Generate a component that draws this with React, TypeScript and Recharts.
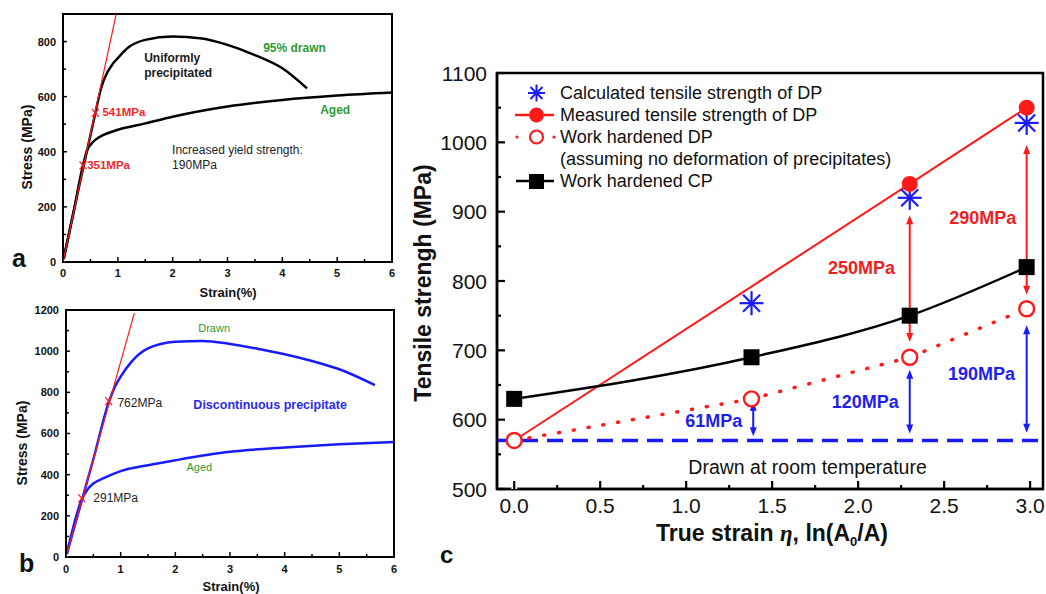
import React from "react";
import {
  ComposedChart,
  Line,
  Scatter,
  XAxis,
  YAxis,
  ReferenceLine,
  ReferenceArea,
  Legend,
} from "recharts";

// ---------- panel a (stress-strain, black) ----------
const strainDrawnA = [0, 0.3, 0.59, 0.7, 0.8, 0.9, 1.0, 1.2, 1.5, 2.0, 2.5, 3.0, 3.5, 4.0, 4.45];
const stressDrawnA = [0, 280, 541, 635, 685, 717, 740, 780, 806, 818, 812, 788, 751, 703, 630];
const strainAgedA = [0, 0.2, 0.365, 0.45, 0.5, 0.6, 0.75, 1.0, 1.5, 2.0, 3.0, 4.0, 5.0, 6.0];
const stressAgedA = [0, 190, 351, 410, 425, 445, 462, 480, 503, 527, 564, 588, 604, 615];
const elasticStrainA = [0, 0.97];
const elasticStressA = [0, 900];
const yieldStrainA = [0.365, 0.59];
const yieldStressA = [351, 541];

// ---------- panel b (stress-strain, blue) ----------
const strainDrawnB = [0, 0.3, 0.5, 0.78, 0.9, 1.0, 1.2, 1.5, 2.0, 2.5, 3.0, 3.5, 4.0, 4.5, 5.0, 5.65];
const stressDrawnB = [0, 285, 475, 750, 830, 876, 949, 1013, 1046, 1050, 1035, 1012, 985, 952, 912, 835];
const strainAgedB = [0, 0.29, 0.4, 0.5, 0.7, 1.0, 1.5, 2.0, 3.0, 4.0, 5.0, 6.0];
const stressAgedB = [0, 280, 330, 357, 384, 417, 446, 470, 511, 532, 548, 559];
const elasticStrainB = [0, 1.25];
const elasticStressB = [0, 1185];
const yieldStrainB = [0.29, 0.78];
const yieldStressB = [285, 757];

// ---------- panel c (tensile strength vs true strain) ----------
const trueStrain = [0, 1.38, 2.3, 2.98];
const calculatedDP = [null, 768, 920, 1028];
const measuredDP = [570, null, 940, 1050];
const hardenedDP = [570, 630, 690, 760];
const hardenedCP = [630, 690, 750, 820];
const drawnRT = 570;

const redArrowX = [2.3, 2.98];
const redArrowFrom = [712, 780];
const redArrowTo = [895, 996];
const blueArrowX = [1.39, 2.3, 2.98];
const blueArrowFrom = [576, 580, 581];
const blueArrowTo = [626, 672, 736];

const legendC = [
  "Calculated tensile strength of DP",
  "Measured tensile strength of DP",
  "Work hardened DP",
  "(assuming no deformation of precipitates)",
  "Work hardened CP",
];

// annotations (x, y in data units)
const notesBoldA = [
  { x: 1.48, y: 727, text: "Uniformly" },
  { x: 1.48, y: 672, text: "precipitated" },
];
const notesGreenA = [
  { x: 3.65, y: 763, text: "95% drawn" },
  { x: 4.69, y: 537, text: "Aged" },
];
const notesRedA = [
  { x: 0.72, y: 529, text: "541MPa" },
  { x: 0.44, y: 337, text: "351MPa" },
];
const notesPlainA = [
  { x: 1.99, y: 391, text: "Increased yield strength:" },
  { x: 1.99, y: 337, text: "190MPa" },
];
const notesGreenB = [
  { x: 2.71, y: 1094, text: "Drawn" },
  { x: 2.44, y: 417, text: "Aged" },
];
const notesPlainB = [
  { x: 0.94, y: 730, text: "762MPa" },
  { x: 0.5, y: 266, text: "291MPa" },
];
const notesBlueB = [{ x: 2.33, y: 718, text: "Discontinuous precipitate" }];
const notesRedC = [
  { x: 2.02, y: 820, text: "250MPa" },
  { x: 2.725, y: 892, text: "290MPa" },
];
const notesBlueC = [
  { x: 2.717, y: 667, text: "190MPa" },
  { x: 2.042, y: 626, text: "120MPa" },
  { x: 1.161, y: 599, text: "61MPa" },
];
const notesBlackC = [{ x: 1.706, y: 532, text: "Drawn at room temperature" }];

// ticks
const ticksX6 = [0, 0.5, 1, 1.5, 2, 2.5, 3, 3.5, 4, 4.5, 5, 5.5, 6];
const majorX6 = [0, 1, 2, 3, 4, 5, 6];
const ticksYA = [0, 100, 200, 300, 400, 500, 600, 700, 800];
const majorYA = [0, 200, 400, 600, 800];
const ticksYB = [0, 100, 200, 300, 400, 500, 600, 700, 800, 900, 1000, 1100, 1200];
const majorYB = [0, 200, 400, 600, 800, 1000, 1200];
const ticksXC = [0, 0.25, 0.5, 0.75, 1, 1.25, 1.5, 1.75, 2, 2.25, 2.5, 2.75, 3];
const majorXC = [0, 0.5, 1, 1.5, 2, 2.5, 3];
const ticksYC = [500, 550, 600, 650, 700, 750, 800, 850, 900, 950, 1000, 1050, 1100];
const majorYC = [500, 600, 700, 800, 900, 1000, 1100];

const FONT = '"Liberation Sans", Arial, Helvetica, sans-serif';
const RED = "#ff1a1a";
const BLUE = "#1a1aff";
const GREEN = "#2e9a36";
const INK = "#111";

const pts = (xs: number[], ys: (number | null)[]) =>
  xs.map((x, i) => ({ x, y: ys[i] })).filter((p) => p.y !== null);

type TickOpts = {
  side: "bottom" | "left" | "top" | "right";
  major: number[];
  len: number;
  minorLen: number;
  label?: boolean;
  fmt?: (v: number) => string;
  gap?: number;
  fontSize?: number;
  fontWeight?: string | number;
  strokeWidth?: number;
};

// draws inward tick lines, labels outside
function axisTick(o: TickOpts) {
  return (props: any) => {
    const { x, y, payload } = props;
    const v = payload.value;
    const isMajor = o.major.some((m) => Math.abs(m - v) < 1e-6);
    const L = isMajor ? o.len : o.minorLen;
    const sw = o.strokeWidth ?? 1.5;
    const show = o.label && isMajor;
    const txt = o.fmt ? o.fmt(v) : String(v);
    const gap = o.gap ?? 8;
    const txtStyle = {
      fontFamily: FONT,
      fontSize: o.fontSize ?? 12,
      fontWeight: o.fontWeight ?? "normal",
      fill: INK,
    };
    if (o.side === "bottom")
      return (
        <g>
          <line x1={x} y1={y} x2={x} y2={y - L} stroke="#000" strokeWidth={sw} />
          {show && (
            <text x={x} y={y + gap} textAnchor="middle" {...txtStyle}>
              {txt}
            </text>
          )}
        </g>
      );
    if (o.side === "top")
      return <line x1={x} y1={y} x2={x} y2={y + L} stroke="#000" strokeWidth={sw} />;
    if (o.side === "right")
      return <line x1={x} y1={y} x2={x - L} y2={y} stroke="#000" strokeWidth={sw} />;
    return (
      <g>
        <line x1={x} y1={y} x2={x + L} y2={y} stroke="#000" strokeWidth={sw} />
        {show && (
          <text x={x - gap} y={y} dy="0.36em" textAnchor="end" {...txtStyle}>
            {txt}
          </text>
        )}
      </g>
    );
  };
}

const textShape =
  (style: any) =>
  (props: any) =>
    (
      <text x={props.cx} y={props.cy} {...style}>
        {props.payload.text}
      </text>
    );

const xMark = (color: string) => (props: any) =>
  (
    <g stroke={color} strokeWidth={1.2}>
      <line x1={props.cx - 3.5} y1={props.cy - 4} x2={props.cx + 3.5} y2={props.cy + 4} />
      <line x1={props.cx - 3.5} y1={props.cy + 4} x2={props.cx + 3.5} y2={props.cy - 4} />
    </g>
  );

function Asterisk({ cx, cy, r, color, sw }: any) {
  const d = r * 0.7071;
  return (
    <g stroke={color} strokeWidth={sw}>
      <line x1={cx} y1={cy - r} x2={cx} y2={cy + r} />
      <line x1={cx - r} y1={cy} x2={cx + r} y2={cy} />
      <line x1={cx - d} y1={cy - d} x2={cx + d} y2={cy + d} />
      <line x1={cx - d} y1={cy + d} x2={cx + d} y2={cy - d} />
    </g>
  );
}

const arrowShape = (color: string) => (props: any) => {
  const { x1, y1, x2, y2 } = props;
  const top = Math.min(y1, y2);
  const bot = Math.max(y1, y2);
  const x = x1;
  return (
    <g>
      <line x1={x} y1={top + 6} x2={x} y2={bot - 6} stroke={color} strokeWidth={2} />
      <polygon points={`${x},${top} ${x - 3.5},${top + 9} ${x + 3.5},${top + 9}`} fill={color} />
      <polygon points={`${x},${bot} ${x - 3.5},${bot - 9} ${x + 3.5},${bot - 9}`} fill={color} />
    </g>
  );
};

// invisible series that keeps the top / right frame axes alive
const frameSeries = (xMin: number, yMin: number) => (
  <Line
    xAxisId="top"
    yAxisId="right"
    data={[{ x: xMin, y: yMin }]}
    dataKey="y"
    stroke="none"
    dot={false}
    legendType="none"
    isAnimationActive={false}
  />
);

function SmallPanel(props: {
  top: number;
  height: number;
  marginTop: number;
  marginRight: number;
  yWidth: number;
  xHeight: number;
  yMax: number;
  yTicks: number[];
  yMajor: number[];
  letter: string;
  letterPos: [number, number];
  yTitlePos: [number, number];
  xTitlePos: [number, number];
  tickGapX: number;
  children: React.ReactNode;
}) {
  const p = props;
  const tickFont = { fontSize: 11, fontWeight: "bold" as const };
  return (
    <div style={{ position: "absolute", left: 0, top: p.top }}>
      <ComposedChart
        width={400}
        height={p.height}
        margin={{ top: p.marginTop, right: p.marginRight, bottom: 0, left: 0 }}
      >
        <XAxis
          type="number"
          dataKey="x"
          domain={[0, 6]}
          ticks={ticksX6}
          interval={0}
          tickSize={0}
          tickMargin={0}
          height={p.xHeight}
          allowDataOverflow
          stroke="#000"
          axisLine={{ stroke: "#000", strokeWidth: 2 }}
          tick={axisTick({ side: "bottom", major: majorX6, len: 5, minorLen: 3, label: true, gap: p.tickGapX, ...tickFont })}
          label={{
            content: () => (
              <text
                x={p.xTitlePos[0]}
                y={p.xTitlePos[1]}
                textAnchor="middle"
                fontFamily={FONT}
                fontSize={13}
                fontWeight="bold"
                fill={INK}
              >
                Strain(%)
              </text>
            ),
          }}
        />
        <XAxis
          xAxisId="top"
          orientation="top"
          type="number"
          dataKey="x"
          domain={[0, 6]}
          ticks={ticksX6}
          interval={0}
          tickSize={0}
          tickMargin={0}
          height={0}
          allowDataOverflow
          stroke="#000"
          axisLine={{ stroke: "#000", strokeWidth: 2 }}
          tick={axisTick({ side: "top", major: majorX6, len: 5, minorLen: 3 })}
        />
        <YAxis
          type="number"
          dataKey="y"
          domain={[0, p.yMax]}
          ticks={p.yTicks}
          interval={0}
          tickSize={0}
          tickMargin={0}
          width={p.yWidth}
          allowDataOverflow
          stroke="#000"
          axisLine={{ stroke: "#000", strokeWidth: 2 }}
          tick={axisTick({ side: "left", major: p.yMajor, len: 4, minorLen: 3, label: true, gap: 7, ...tickFont })}
          label={{
            content: () => (
              <g>
                <text
                  transform={`translate(${p.yTitlePos[0]},${p.yTitlePos[1]}) rotate(-90)`}
                  textAnchor="middle"
                  dy="0.36em"
                  fontFamily={FONT}
                  fontSize={14}
                  fontWeight="bold"
                  fill={INK}
                >
                  Stress (MPa)
                </text>
                <text
                  x={p.letterPos[0]}
                  y={p.letterPos[1]}
                  fontFamily={FONT}
                  fontSize={25}
                  fontWeight="bold"
                  fill={INK}
                >
                  {p.letter}
                </text>
              </g>
            ),
          }}
        />
        <YAxis
          yAxisId="right"
          orientation="right"
          type="number"
          dataKey="y"
          domain={[0, p.yMax]}
          ticks={p.yTicks}
          interval={0}
          tickSize={0}
          tickMargin={0}
          width={0}
          allowDataOverflow
          stroke="#000"
          axisLine={{ stroke: "#000", strokeWidth: 2 }}
          tick={axisTick({ side: "right", major: p.yMajor, len: 4, minorLen: 3 })}
        />
        <ReferenceArea x1={0} x2={6} y1={0} y2={p.yMax} fill="none" stroke="#000" strokeWidth={2} />
        {frameSeries(0, 0)}
        {p.children}
      </ComposedChart>
    </div>
  );
}

const renderLegendC = () => {
  const row = (sym: React.ReactNode, text: string, i: number) => (
    <div key={i} style={{ display: "flex", alignItems: "center", height: 22 }}>
      <svg width={44} height={22} style={{ flex: "none" }}>
        {sym}
      </svg>
      <span style={{ marginLeft: 2, whiteSpace: "nowrap" }}>{text}</span>
    </div>
  );
  return (
    <div style={{ fontFamily: FONT, fontSize: 18, color: INK, lineHeight: "22px" }}>
      {row(<Asterisk cx={22.5} cy={11} r={8.5} color={BLUE} sw={2} />, legendC[0], 0)}
      {row(
        <g>
          <line x1={1} y1={11} x2={40} y2={11} stroke={RED} strokeWidth={2.5} />
          <circle cx={22.5} cy={11} r={7.5} fill={RED} />
        </g>,
        legendC[1],
        1
      )}
      {row(
        <g>
          <circle cx={3} cy={11} r={1.6} fill={RED} />
          <circle cx={40} cy={11} r={1.6} fill={RED} />
          <circle cx={22.5} cy={11} r={6.5} fill="#fff" stroke={RED} strokeWidth={2.2} />
        </g>,
        legendC[2],
        2
      )}
      {row(null, legendC[3], 3)}
      {row(
        <g>
          <line x1={2} y1={11} x2={40} y2={11} stroke="#000" strokeWidth={2.5} />
          <rect x={15} y={4} width={15} height={15} fill="#000" />
        </g>,
        legendC[4],
        4
      )}
    </div>
  );
};

function PanelC() {
  const tickFont = { fontSize: 21, fontWeight: "normal" as const };
  return (
    <div style={{ position: "absolute", left: 400, top: 40 }}>
      <ComposedChart width={646} height={554} margin={{ top: 33, right: 3, bottom: 0, left: 0 }}>
        <XAxis
          type="number"
          dataKey="x"
          domain={[-0.1, 3.075]}
          ticks={ticksXC}
          interval={0}
          tickSize={0}
          tickMargin={0}
          height={105}
          allowDataOverflow
          stroke="#000"
          axisLine={{ stroke: "#000", strokeWidth: 2.5 }}
          tick={axisTick({
            side: "bottom",
            major: majorXC,
            len: 8,
            minorLen: 4,
            label: true,
            gap: 24,
            strokeWidth: 2.2,
            fmt: (v) => v.toFixed(1),
            ...tickFont,
          })}
          label={{
            content: () => (
              <g>
                <text
                  x={372}
                  y={501}
                  textAnchor="middle"
                  fontFamily={FONT}
                  fontSize={23}
                  fontWeight="bold"
                  fill={INK}
                >
                  True strain{" "}
                  <tspan fontFamily='"Liberation Serif", serif' fontStyle="italic">
                    η
                  </tspan>
                  , ln(A
                  <tspan dy={5} fontSize={13}>
                    0
                  </tspan>
                  <tspan dy={-5}>/A)</tspan>
                </text>
                <text x={40} y={523} fontFamily={FONT} fontSize={24} fontWeight="bold" fill={INK}>
                  c
                </text>
              </g>
            ),
          }}
        />
        <XAxis
          xAxisId="top"
          orientation="top"
          type="number"
          dataKey="x"
          domain={[-0.1, 3.075]}
          ticks={ticksXC}
          interval={0}
          tickSize={0}
          tickMargin={0}
          height={0}
          allowDataOverflow
          stroke="#000"
          axisLine={{ stroke: "#000", strokeWidth: 2.5 }}
          tick={axisTick({ side: "top", major: majorXC, len: 8, minorLen: 4, strokeWidth: 2.2 })}
        />
        <YAxis
          type="number"
          dataKey="y"
          domain={[500, 1100]}
          ticks={ticksYC}
          interval={0}
          tickSize={0}
          tickMargin={0}
          width={97}
          allowDataOverflow
          stroke="#000"
          axisLine={{ stroke: "#000", strokeWidth: 2.5 }}
          tick={axisTick({ side: "left", major: majorYC, len: 8, minorLen: 4, label: true, gap: 10, strokeWidth: 2.2, ...tickFont })}
          label={{
            content: () => (
              <text
                transform="translate(23,243) rotate(-90)"
                textAnchor="middle"
                dy="0.36em"
                fontFamily={FONT}
                fontSize={23}
                fontWeight="bold"
                fill={INK}
              >
                Tensile strengh (MPa)
              </text>
            ),
          }}
        />
        <YAxis
          yAxisId="right"
          orientation="right"
          type="number"
          dataKey="y"
          domain={[500, 1100]}
          ticks={ticksYC}
          interval={0}
          tickSize={0}
          tickMargin={0}
          width={0}
          allowDataOverflow
          stroke="#000"
          axisLine={{ stroke: "#000", strokeWidth: 2.5 }}
          tick={axisTick({ side: "right", major: majorYC, len: 8, minorLen: 4, strokeWidth: 2.2 })}
        />
        <Legend
          layout="vertical"
          align="center"
          verticalAlign="middle"
          content={renderLegendC}
          wrapperStyle={{ left: 114, top: 42, width: 440, height: 110 }}
        />
        <ReferenceArea x1={-0.1} x2={3.075} y1={500} y2={1100} fill="none" stroke="#000" strokeWidth={2.5} />
        {frameSeries(0, 500)}
        <ReferenceLine y={drawnRT} stroke={BLUE} strokeWidth={3.5} strokeDasharray="16 9" />
        {redArrowX.map((x, i) => (
          <ReferenceLine
            key={`ra${i}`}
            segment={[
              { x, y: redArrowFrom[i] },
              { x, y: redArrowTo[i] },
            ]}
            shape={arrowShape(RED)}
          />
        ))}
        {blueArrowX.map((x, i) => (
          <ReferenceLine
            key={`ba${i}`}
            segment={[
              { x, y: blueArrowFrom[i] },
              { x, y: blueArrowTo[i] },
            ]}
            shape={arrowShape(BLUE)}
          />
        ))}
        <Line
          data={pts(trueStrain, measuredDP)}
          dataKey="y"
          name="Measured tensile strength of DP"
          type="linear"
          stroke={RED}
          strokeWidth={2}
          isAnimationActive={false}
          dot={(d: any) => <circle key={`m${d.index}`} cx={d.cx} cy={d.cy} r={8} fill={RED} />}
        />
        <Line
          data={pts(trueStrain, hardenedDP)}
          dataKey="y"
          name="Work hardened DP"
          type="linear"
          stroke={RED}
          strokeWidth={3.5}
          strokeDasharray="1 14"
          strokeLinecap="round"
          isAnimationActive={false}
          dot={(d: any) => (
            <circle key={`h${d.index}`} cx={d.cx} cy={d.cy} r={7.5} fill="#fff" stroke={RED} strokeWidth={2.4} />
          )}
        />
        <Line
          data={pts(trueStrain, hardenedCP)}
          dataKey="y"
          name="Work hardened CP"
          type="monotone"
          stroke="#000"
          strokeWidth={2.5}
          isAnimationActive={false}
          dot={(d: any) => <rect key={`c${d.index}`} x={d.cx - 8} y={d.cy - 8} width={16} height={16} fill="#000" />}
        />
        <Scatter
          data={pts(trueStrain, calculatedDP)}
          dataKey="y"
          name="Calculated tensile strength of DP"
          isAnimationActive={false}
          shape={(s: any) => <Asterisk cx={s.cx} cy={s.cy} r={12} color={BLUE} sw={2.2} />}
        />
        <Scatter
          data={notesRedC}
          dataKey="y"
          isAnimationActive={false}
          shape={textShape({ textAnchor: "middle", dy: "0.36em", fill: "#f01e1e", fontFamily: FONT, fontSize: 18, fontWeight: "bold" })}
        />
        <Scatter
          data={notesBlueC}
          dataKey="y"
          isAnimationActive={false}
          shape={textShape({ textAnchor: "middle", dy: "0.36em", fill: "#1e1ef0", fontFamily: FONT, fontSize: 18, fontWeight: "bold" })}
        />
        <Scatter
          data={notesBlackC}
          dataKey="y"
          isAnimationActive={false}
          shape={textShape({ textAnchor: "middle", dy: "0.36em", fill: INK, fontFamily: FONT, fontSize: 19.5 })}
        />
      </ComposedChart>
    </div>
  );
}

export default function App() {
  return (
    <div
      style={{
        position: "absolute",
        left: 0,
        top: 0,
        width: 1046,
        height: 594,
        background: "#fff",
        overflow: "hidden",
        fontFamily: FONT,
      }}
    >
      <SmallPanel
        top={0}
        height={300}
        marginTop={14}
        marginRight={8}
        yWidth={63}
        xHeight={38}
        yMax={900}
        yTicks={ticksYA}
        yMajor={majorYA}
        letter="a"
        letterPos={[12, 267]}
        yTitlePos={[27, 147]}
        xTitlePos={[228, 297]}
        tickGapX={15}
      >
        <Line data={pts(strainAgedA, stressAgedA)} dataKey="y" type="monotone" stroke="#000" strokeWidth={2.5} dot={false} isAnimationActive={false} />
        <Line data={pts(strainDrawnA, stressDrawnA)} dataKey="y" type="monotone" stroke="#000" strokeWidth={2.5} dot={false} isAnimationActive={false} />
        <Line data={pts(elasticStrainA, elasticStressA)} dataKey="y" type="linear" stroke={RED} strokeWidth={1.2} dot={false} isAnimationActive={false} />
        <Scatter data={pts(yieldStrainA, yieldStressA)} dataKey="y" isAnimationActive={false} shape={xMark(RED)} />
        <Scatter data={notesBoldA} dataKey="y" isAnimationActive={false} shape={textShape({ fill: "#1a1a1a", fontFamily: FONT, fontSize: 12, fontWeight: "bold" })} />
        <Scatter data={notesGreenA} dataKey="y" isAnimationActive={false} shape={textShape({ fill: GREEN, fontFamily: FONT, fontSize: 12, fontWeight: "bold" })} />
        <Scatter data={notesRedA} dataKey="y" isAnimationActive={false} shape={textShape({ fill: "#f02828", fontFamily: FONT, fontSize: 11.5, fontWeight: "bold" })} />
        <Scatter data={notesPlainA} dataKey="y" isAnimationActive={false} shape={textShape({ fill: "#222", fontFamily: FONT, fontSize: 12 })} />
      </SmallPanel>
      <SmallPanel
        top={295}
        height={299}
        marginTop={15}
        marginRight={6}
        yWidth={66}
        xHeight={37}
        yMax={1200}
        yTicks={ticksYB}
        yMajor={majorYB}
        letter="b"
        letterPos={[19, 277]}
        yTitlePos={[22, 148]}
        xTitlePos={[231, 296]}
        tickGapX={16}
      >
        <Line data={pts(strainAgedB, stressAgedB)} dataKey="y" type="monotone" stroke={BLUE} strokeWidth={2.5} dot={false} isAnimationActive={false} />
        <Line data={pts(strainDrawnB, stressDrawnB)} dataKey="y" type="monotone" stroke={BLUE} strokeWidth={2.5} dot={false} isAnimationActive={false} />
        <Line data={pts(elasticStrainB, elasticStressB)} dataKey="y" type="linear" stroke={RED} strokeWidth={1.2} dot={false} isAnimationActive={false} />
        <Scatter data={pts(yieldStrainB, yieldStressB)} dataKey="y" isAnimationActive={false} shape={xMark(RED)} />
        <Scatter data={notesGreenB} dataKey="y" isAnimationActive={false} shape={textShape({ textAnchor: "middle", fill: GREEN, fontFamily: FONT, fontSize: 11 })} />
        <Scatter data={notesPlainB} dataKey="y" isAnimationActive={false} shape={textShape({ fill: "#222", fontFamily: FONT, fontSize: 12 })} />
        <Scatter data={notesBlueB} dataKey="y" isAnimationActive={false} shape={textShape({ fill: "#2a2af0", fontFamily: FONT, fontSize: 12.5, fontWeight: "bold" })} />
      </SmallPanel>
      <PanelC />
    </div>
  );
}
